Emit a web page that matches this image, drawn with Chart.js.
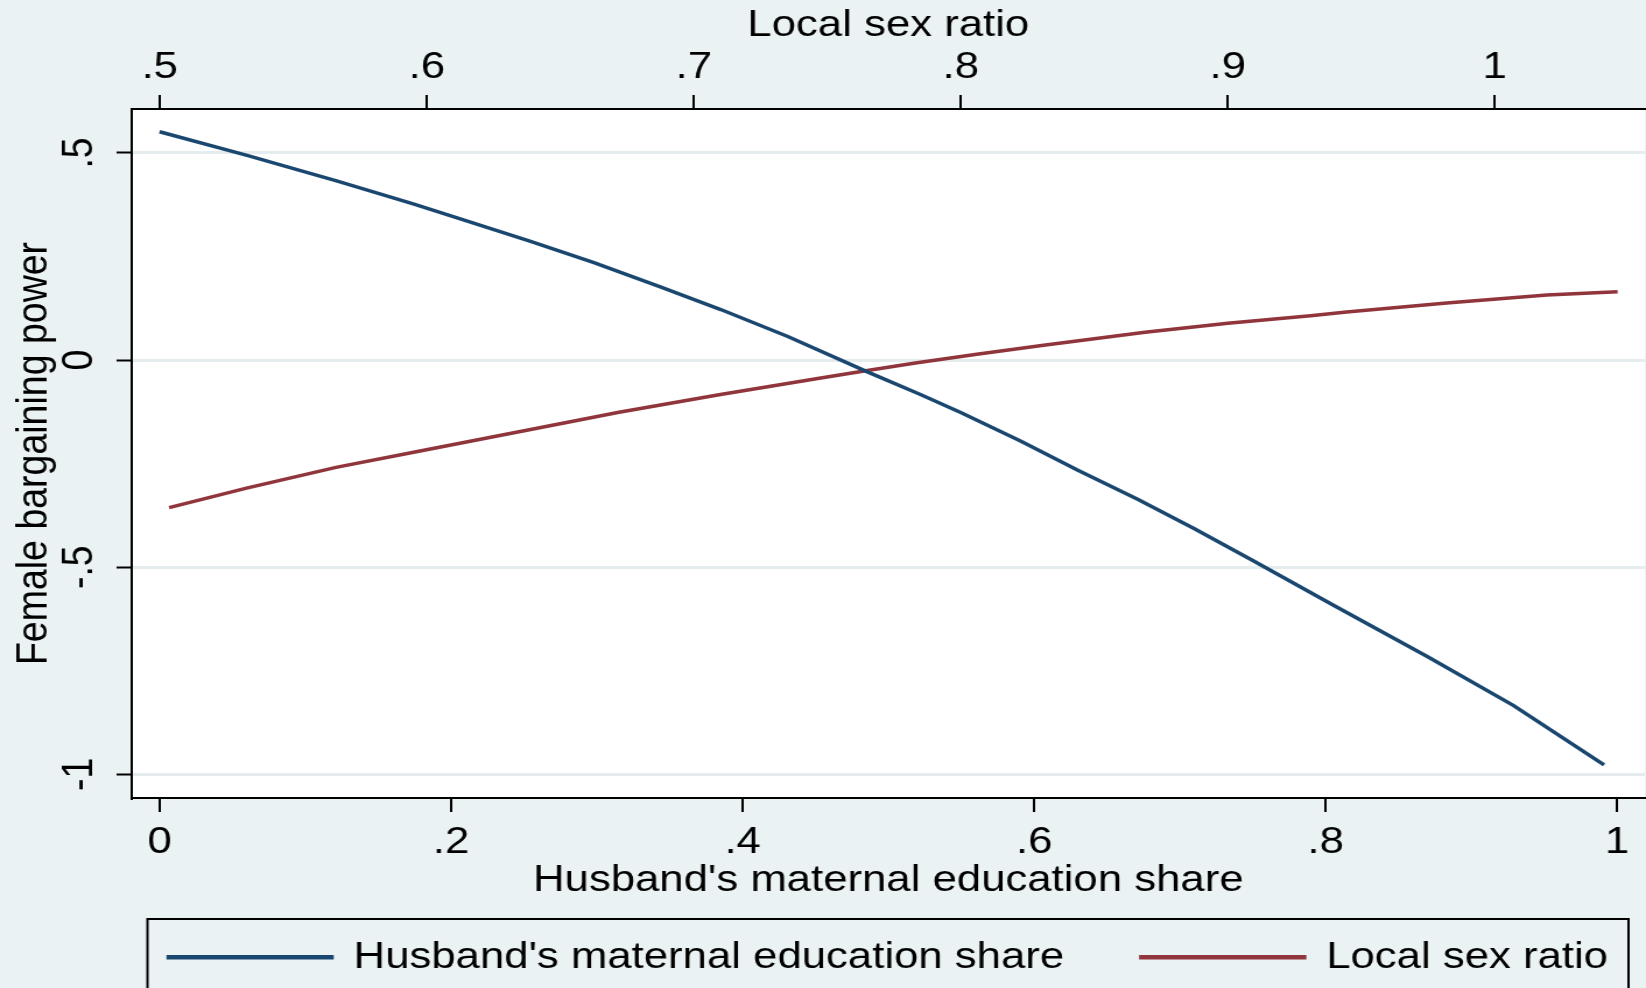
<!DOCTYPE html>
<html>
<head>
<meta charset="utf-8">
<title>Female bargaining power</title>
<script src="https://cdn.jsdelivr.net/npm/chart.js@4/dist/chart.umd.min.js"></script>
<style>
  html, body { margin: 0; padding: 0; background: #eaf2f3; overflow: hidden; }
</style>
</head>
<body>
<!-- the original graph's text is a bit wider than tall, so the canvas is drawn narrower and stretched -->
<canvas id="chart" width="1412" height="988" style="display:block;width:1646px;height:988px"></canvas>
<script>
// Husband's maternal education share (bottom axis) -> female bargaining power
var eduShare   = [0, 0.06, 0.122, 0.174, 0.209, 0.254, 0.298, 0.344, 0.385, 0.431, 0.486, 0.522, 0.55, 0.591, 0.63, 0.671, 0.71, 0.75, 0.806, 0.87, 0.929, 0.991]
var powerByEdu = [0.551, 0.494, 0.432, 0.377, 0.338, 0.287, 0.235, 0.176, 0.122, 0.057, -0.029, -0.083, -0.127, -0.196, -0.266, -0.336, -0.407, -0.484, -0.593, -0.716, -0.834, -0.977]

// Local sex ratio (top axis) -> female bargaining power
var sexRatio     = [0.5035, 0.5325, 0.566, 0.597, 0.636, 0.672, 0.71, 0.747, 0.765, 0.783, 0.806, 0.831, 0.869, 0.9, 0.931, 0.9445, 0.982, 1.0195, 1.046]
var powerByRatio = [-0.356, -0.309, -0.259, -0.22, -0.171, -0.126, -0.083, -0.044, -0.025, -0.007, 0.014, 0.036, 0.067, 0.089, 0.107, 0.116, 0.138, 0.157, 0.165]

// tick labels
var eduTicks   = [0, 0.2, 0.4, 0.6, 0.8, 1]
var ratioTicks = [0.5, 0.6, 0.7, 0.8, 0.9, 1]
var powerTicks = [-1, -0.5, 0, 0.5]

var navy = '#1a476f'
var maroon = '#90353b'
var gridColor = '#e4ecee'
var font = { family: '"Liberation Sans", Arial, Helvetica, sans-serif', size: 37.5 }

function stataLabel(v) { // 0.5 -> ".5", -0.5 -> "-.5"
  return String(+Number(v).toFixed(2)).replace(/^(-?)0\./, '$1.')
}

function fixedTicks(list) {
  return function(scale) { scale.ticks = list.map(function(v) { return { value: v } }) }
}

function points(xs, ys) {
  return xs.map(function(x, i) { return { x: x, y: ys[i] } })
}

var plotFrame = {
  id: 'plotFrame',
  beforeDraw: function(chart) { // white plot region
    var a = chart.chartArea, ctx = chart.ctx
    ctx.save()
    ctx.fillStyle = '#fff'
    ctx.fillRect(a.left, a.top, a.right - a.left, a.bottom - a.top)
    ctx.restore()
  },
  afterLayout: function(chart) { // center the legend row under the plot region
    var lg = chart.legend, a = chart.chartArea
    var dx = (a.left + a.right) / 2 - (lg.left + lg.right) / 2
    lg.left += dx; lg.right += dx
    var dy = (a.bottom + 74.5) - lg.top
    lg.top += dy; lg.bottom += dy
  },
  afterDraw: function(chart) { // legend box
    var a = chart.chartArea, ctx = chart.ctx
    ctx.save()
    ctx.strokeStyle = '#000'
    ctx.lineWidth = 2
    ctx.strokeRect(a.left + 13.5, a.bottom + 121, a.right - a.left - 27.5, 200)
    ctx.restore()
  }
}

new Chart(document.getElementById('chart'), {
  type: 'scatter',
  data: {
    datasets: [{
      label: "Husband's maternal education share",
      data: points(eduShare, powerByEdu),
      xAxisID: 'x',
      yAxisID: 'y',
      showLine: true,
      borderColor: navy,
      backgroundColor: navy,
      borderWidth: 3.5,
      pointRadius: 0,
      tension: 0
    }, {
      label: 'Local sex ratio',
      data: points(sexRatio, powerByRatio),
      xAxisID: 'x2',
      yAxisID: 'y',
      showLine: true,
      borderColor: maroon,
      backgroundColor: maroon,
      borderWidth: 3.5,
      pointRadius: 0,
      tension: 0
    }]
  },
  options: {
    responsive: false,
    devicePixelRatio: 1,
    animation: false,
    layout: { padding: { right: 1 } },
    plugins: {
      tooltip: { enabled: false },
      legend: {
        position: 'bottom',
        labels: {
          font: font,
          color: '#000',
          boxWidth: 140,
          boxHeight: 1,
          padding: 66
        }
      }
    },
    scales: {
      x: {
        type: 'linear',
        position: 'bottom',
        min: -0.0191,
        max: 1.019,
        afterBuildTicks: fixedTicks(eduTicks),
        afterFit: function(s) { s.height = 76.5 },
        ticks: { font: font, color: '#000', padding: 8, maxRotation: 0, autoSkip: false, callback: stataLabel },
        grid: { drawOnChartArea: false, color: '#000', lineWidth: 2, tickLength: 14 },
        border: { color: '#000', width: 2 },
        title: { display: true, text: "Husband's maternal education share", font: font, color: '#000', padding: { top: 0, bottom: -28.5 } }
      },
      x2: {
        type: 'linear',
        axis: 'x',
        position: 'top',
        min: 0.4895,
        max: 1.0562,
        afterBuildTicks: fixedTicks(ratioTicks),
        afterFit: function(s) { s.height = 109 },
        ticks: { font: font, color: '#000', padding: 5, maxRotation: 0, autoSkip: false, callback: stataLabel },
        grid: { drawOnChartArea: false, color: '#000', lineWidth: 2, tickLength: 14 },
        border: { color: '#000', width: 2 },
        title: { display: true, text: 'Local sex ratio', font: font, color: '#000', padding: { top: 3.5, bottom: 0 } }
      },
      y: {
        type: 'linear',
        position: 'left',
        min: -1.057,
        max: 0.606,
        afterBuildTicks: fixedTicks(powerTicks),
        afterFit: function(s) { s.width = 113 },
        ticks: { font: font, color: '#000', padding: 9, minRotation: 90, maxRotation: 90, crossAlign: 'center', autoSkip: false, callback: stataLabel },
        grid: { color: gridColor, lineWidth: 3, tickColor: '#000', tickWidth: 2, tickLength: 13 },
        border: { color: '#000', width: 2 },
        title: { display: true, text: 'Female bargaining power', font: font, color: '#000', padding: { top: 7.6, bottom: 0 } }
      }
    }
  },
  plugins: [plotFrame]
})
</script>
</body>
</html>
